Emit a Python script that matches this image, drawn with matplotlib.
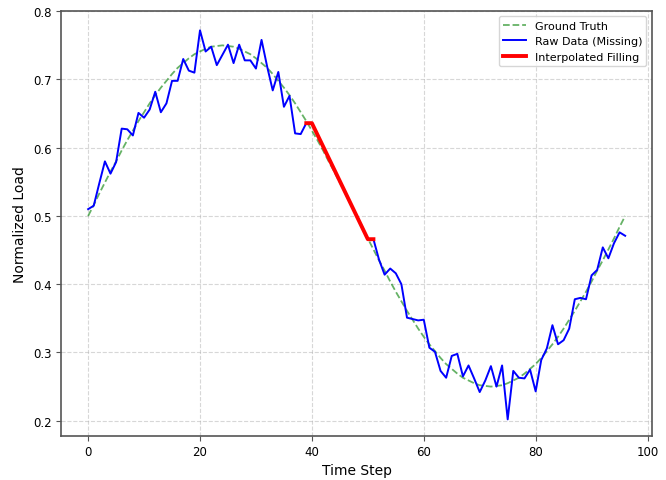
import numpy as np
import matplotlib
matplotlib.use("Agg")
import matplotlib.pyplot as plt

# ---- data ----
time_steps = list(range(97))
ground_truth = [
    0.500, 0.516, 0.533, 0.549, 0.565, 0.580, 0.596, 0.611, 0.625, 0.639, 0.652, 0.665, 0.677,
    0.688, 0.698, 0.708, 0.717, 0.724, 0.731, 0.737, 0.741, 0.745, 0.748, 0.749, 0.750,
    0.749, 0.748, 0.745, 0.741, 0.737, 0.731, 0.724, 0.717, 0.708, 0.698, 0.688, 0.677,
    0.665, 0.652, 0.639, 0.625, 0.611, 0.596, 0.580, 0.565, 0.549, 0.533, 0.516, 0.500,
    0.484, 0.467, 0.451, 0.435, 0.420, 0.404, 0.389, 0.375, 0.361, 0.348, 0.335, 0.323,
    0.312, 0.302, 0.292, 0.283, 0.276, 0.269, 0.263, 0.259, 0.255, 0.252, 0.251, 0.250,
    0.251, 0.252, 0.255, 0.259, 0.263, 0.269, 0.276, 0.283, 0.292, 0.302, 0.312, 0.323,
    0.335, 0.348, 0.361, 0.375, 0.389, 0.404, 0.420, 0.435, 0.451, 0.467, 0.484, 0.500,
]
raw_before = [
    0.510, 0.515, 0.548, 0.580, 0.562, 0.579, 0.628, 0.627, 0.618, 0.651,
    0.644, 0.656, 0.682, 0.652, 0.665, 0.698, 0.698, 0.730, 0.713, 0.710,
    0.772, 0.741, 0.748, 0.721, 0.736, 0.751, 0.724, 0.751, 0.728, 0.728,
    0.716, 0.758, 0.719, 0.684, 0.711, 0.660, 0.676, 0.621, 0.620, 0.636,
]
missing_count = 11  # steps 40..50
raw_after = [
    0.466, 0.436, 0.414, 0.423, 0.416, 0.400, 0.351, 0.349, 0.347, 0.348,
    0.307, 0.301, 0.273, 0.263, 0.295, 0.298, 0.265, 0.281, 0.262, 0.242,
    0.259, 0.280, 0.250, 0.281, 0.202, 0.273, 0.263, 0.262, 0.275, 0.243,
    0.289, 0.306, 0.340, 0.312, 0.318, 0.335, 0.378, 0.380, 0.378, 0.413,
    0.421, 0.454, 0.438, 0.460, 0.476, 0.471,
]
raw_data = raw_before + [np.nan] * missing_count + raw_after
fill_steps = [39, 40, 50, 51]
fill_values = [0.636, 0.636, 0.466, 0.466]

# ---- plot ----
fig, ax = plt.subplots(figsize=(6.66, 4.81), dpi=100)
ax.plot(time_steps, ground_truth, color="green", linestyle="--", alpha=0.6,
        linewidth=1.3, label="Ground Truth")
ax.plot(time_steps, raw_data, color="blue", linewidth=1.4, label="Raw Data (Missing)")
ax.plot(fill_steps, fill_values, color="red", linewidth=2.8, label="Interpolated Filling")

ax.set_xlabel("Time Step", fontsize=10, labelpad=3)
ax.set_ylabel("Normalized Load", fontsize=10)
ax.tick_params(labelsize=8.5, color="#555555")
ax.set_xticks([0, 20, 40, 60, 80, 100])
ax.set_ylim(0.178, 0.801)
ax.grid(True, linestyle="--", alpha=0.5)
for sp in ax.spines.values():
    sp.set_color("#555555")
    sp.set_linewidth(1.2)
ax.legend(loc="upper right", fontsize=8)

fig.subplots_adjust(left=0.092, right=0.979, top=0.976, bottom=0.092)
fig.savefig("out.png", dpi=100)
